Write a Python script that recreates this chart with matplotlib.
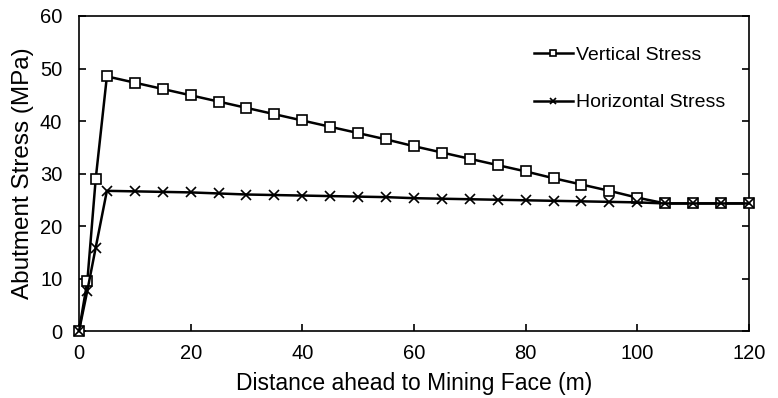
import matplotlib
matplotlib.use("Agg")
import matplotlib.pyplot as plt

distance = [0, 1.5, 3, 5, 10, 15, 20, 25, 30, 35, 40, 45, 50, 55, 60, 65, 70, 75,
            80, 85, 90, 95, 100, 105, 110, 115, 120]
vertical = [0, 9.5, 29.0, 48.5, 47.3, 46.1, 44.9, 43.7, 42.5, 41.3, 40.1, 38.9, 37.7,
            36.5, 35.2, 34.0, 32.8, 31.6, 30.4, 29.1, 27.9, 26.7, 25.4, 24.3, 24.3, 24.3, 24.3]
horizontal = [0, 7.7, 15.9, 26.7, 26.6, 26.5, 26.4, 26.2, 26.0, 25.9, 25.8, 25.7, 25.6,
              25.5, 25.3, 25.2, 25.1, 25.0, 24.9, 24.8, 24.7, 24.6, 24.5, 24.3, 24.3, 24.3, 24.3]

plt.rcParams['font.family'] = ['Liberation Sans', 'DejaVu Sans']

fig = plt.figure(figsize=(7.78, 3.98), dpi=100)
ax = fig.add_axes([0.1015, 0.1683, 0.8612, 0.7915])

ax.plot(distance, vertical, color='black', lw=1.8, marker='s', ms=6.5,
        mfc='white', mec='black', mew=1.2, label='Vertical Stress', zorder=3,
        clip_on=False)
ax.plot(distance, horizontal, color='black', lw=1.8, marker='x', ms=6.5,
        mec='black', mew=1.2, label='Horizontal Stress', zorder=3,
        clip_on=False)

ax.set_xlim(0, 120)
ax.set_ylim(0, 60)
ax.set_xticks(range(0, 121, 20))
ax.set_yticks(range(0, 61, 10))
ax.tick_params(direction='in', length=5, width=1.2, labelsize=14.5,
               right=True, top=False)
ax.tick_params(axis='y', pad=12)
ax.tick_params(axis='x', pad=9)
for s in ax.spines.values():
    s.set_linewidth(1.2)

ax.set_xlabel('Distance ahead to Mining Face (m)', fontsize=16.5, labelpad=7)
ax.set_ylabel('Abutment Stress (MPa)', fontsize=17.5, labelpad=4)

leg = ax.legend(loc='upper right', frameon=False, fontsize=14, markerscale=0.6,
                handlelength=2.0, handletextpad=0.15, labelspacing=1.55,
                bbox_to_anchor=(0.99, 0.96))

fig.savefig('out.png', dpi=100)
